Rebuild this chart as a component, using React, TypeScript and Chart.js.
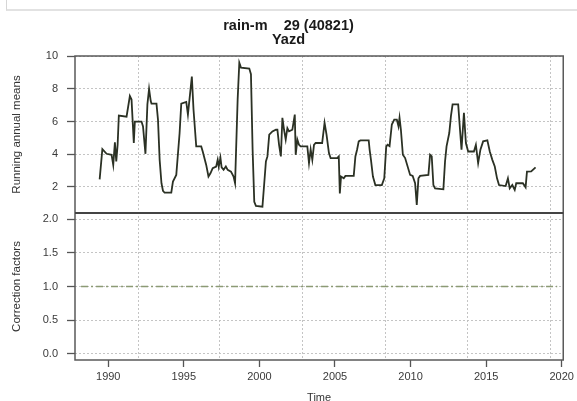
import React, { useEffect, useRef } from 'react';
import { Chart, registerables } from 'chart.js';

Chart.register(...registerables);

// ---- data ----
const rainYears = [
  1989.43, 1989.61, 1989.89, 1990.22, 1990.33, 1990.44, 1990.53, 1990.62, 1990.70, 1991.21,
  1991.43, 1991.54, 1991.69, 1991.76, 1992.20, 1992.30, 1992.46, 1992.59, 1992.70, 1992.81,
  1992.86, 1993.19, 1993.29, 1993.40, 1993.52, 1993.62, 1993.73, 1994.17, 1994.28, 1994.50,
  1994.72, 1994.83, 1995.16, 1995.27, 1995.53, 1995.64, 1995.82, 1996.15, 1996.25, 1996.48,
  1996.63, 1996.76, 1996.91, 1997.14, 1997.24, 1997.31, 1997.42, 1997.50, 1997.63, 1997.78,
  1997.90, 1998.12, 1998.29, 1998.39, 1998.56, 1998.67, 1998.78, 1999.33, 1999.44, 1999.55,
  1999.66, 1999.77, 2000.20, 2000.32, 2000.43, 2000.53, 2000.65, 2000.86, 2001.09, 2001.19,
  2001.30, 2001.42, 2001.52, 2001.63, 2001.74, 2001.85, 2001.96, 2002.18, 2002.34, 2002.40,
  2002.51, 2002.62, 2002.73, 2003.17, 2003.28, 2003.39, 2003.50, 2003.61, 2003.72, 2004.15,
  2004.31, 2004.44, 2004.60, 2004.71, 2005.14, 2005.25, 2005.32, 2005.40, 2005.58, 2005.69,
  2006.24, 2006.35, 2006.46, 2006.57, 2006.68, 2007.23, 2007.29, 2007.38, 2007.51, 2007.67,
  2008.10, 2008.26, 2008.39, 2008.48, 2008.61, 2008.76, 2008.92, 2009.09, 2009.20, 2009.27,
  2009.36, 2009.49, 2009.64, 2009.97, 2010.14, 2010.30, 2010.41, 2010.52, 2010.63, 2011.18,
  2011.29, 2011.40, 2011.51, 2011.62, 2012.17, 2012.28, 2012.38, 2012.56, 2012.67, 2012.78,
  2013.15, 2013.27, 2013.37, 2013.53, 2013.66, 2013.81, 2014.19, 2014.32, 2014.47, 2014.62,
  2014.80, 2015.08, 2015.24, 2015.41, 2015.57, 2015.72, 2015.85, 2016.29, 2016.44, 2016.56,
  2016.73, 2016.89, 2016.99, 2017.43, 2017.61, 2017.70, 2017.98, 2018.27,
];
const rainValues = [
  2.47, 4.32, 4.03, 3.97, 3.35, 4.73, 3.56, 4.58, 6.37, 6.30,
  7.56, 7.35, 4.70, 6.00, 6.00, 5.70, 4.03, 7.05, 8.00, 7.25,
  7.10, 7.10, 6.12, 3.66, 2.23, 1.77, 1.65, 1.65, 2.33, 2.74,
  5.30, 7.10, 7.20, 6.43, 8.75, 6.74, 4.48, 4.48, 4.17, 3.35,
  2.64, 2.84, 3.15, 3.25, 3.66, 3.25, 3.80, 3.20, 3.05, 3.25,
  3.05, 2.94, 2.64, 2.23, 7.35, 9.60, 9.30, 9.24, 8.90, 4.28,
  1.10, 0.85, 0.80, 2.23, 3.56, 3.87, 5.20, 5.40, 5.50, 5.50,
  4.58, 3.87, 6.23, 5.50, 4.90, 5.60, 5.40, 5.50, 6.43, 3.97,
  4.90, 4.58, 4.48, 4.48, 3.46, 4.30, 3.66, 4.58, 4.69, 4.69,
  5.92, 5.20, 4.07, 3.77, 3.77, 3.87, 1.61, 2.64, 2.53, 2.68,
  2.68, 3.87, 4.28, 4.79, 4.85, 4.85, 4.28, 3.66, 2.64, 2.12,
  2.12, 2.53, 4.48, 4.58, 4.50, 5.82, 6.12, 6.12, 5.71, 6.23,
  5.50, 3.97, 3.77, 2.74, 2.68, 2.23, 0.90, 2.53, 2.68, 2.74,
  3.97, 3.87, 2.12, 1.92, 1.86, 3.56, 4.48, 5.30, 6.33, 7.05,
  7.05, 5.50, 4.28, 6.53, 4.69, 4.17, 4.17, 4.58, 3.46, 4.28,
  4.79, 4.85, 4.17, 3.66, 3.25, 2.53, 2.12, 2.06, 2.53, 1.92,
  2.12, 1.82, 2.23, 2.23, 1.98, 2.94, 2.96, 3.20,
];
const corrYears = [1988.2, 2019.7];
const corrValues = [1.0, 1.0];

const xTickYears = [1990, 1995, 2000, 2005, 2010, 2015, 2020];
const xGridYears = [1991.97, 1997.37, 2002.83, 2008.36, 2013.75, 2019.28];
const topTicks = [2, 4, 6, 8, 10];
const bottomTicks = [0, 0.5, 1.0, 1.5, 2.0];
const titleLines = ['rain-m    29 (40821)', 'Yazd'];
const topAxisTitle = 'Running annual means';
const bottomAxisTitle = 'Correction factors';
const xAxisTitle = 'Time';

const W = 577;
const H = 410;

const tickFont = { family: "'Liberation Sans', Arial, sans-serif", size: 11 };
const axisTitleFont = { family: "'Liberation Sans Narrow', 'Liberation Sans', Arial, sans-serif", size: 11.5 };
const tickColor = '#3a3a3a';
const gridColor = 'rgba(190,190,190,0.9)';

const framePlugin = {
  id: 'frameAndTitle',
  afterDraw(chart: any) {
    const { ctx, chartArea } = chart;
    const yTop = chart.scales.yTop;
    ctx.save();
    ctx.strokeStyle = '#5a5a5a';
    ctx.lineWidth = 1.5;
    ctx.strokeRect(chartArea.left, chartArea.top, chartArea.right - chartArea.left, chartArea.bottom - chartArea.top);
    ctx.strokeStyle = '#444';
    ctx.lineWidth = 2;
    ctx.beginPath();
    ctx.moveTo(chartArea.left, yTop.bottom);
    ctx.lineTo(chartArea.right, yTop.bottom);
    ctx.stroke();
    ctx.fillStyle = '#1a1a1a';
    ctx.textAlign = 'center';
    ctx.textBaseline = 'middle';
    ctx.font = "bold 14.5px 'Liberation Sans', Arial, sans-serif";
    ctx.fillText(titleLines[0], chart.width / 2, 26);
    ctx.fillText(titleLines[1], chart.width / 2, 40);
    ctx.restore();
  },
};

export default function App() {
  const canvasRef = useRef<HTMLCanvasElement | null>(null);

  useEffect(() => {
    document.body.style.margin = '0';
    document.body.style.overflow = 'hidden';
    const canvas = canvasRef.current;
    if (!canvas) return;

    const rainData = rainYears.map((x, i) => ({ x, y: rainValues[i] }));
    const corrData = corrYears.map((x, i) => ({ x, y: corrValues[i] }));
    const isLabelYear = (v: number) => xTickYears.includes(v);

    const chart = new Chart(canvas, {
      type: 'line',
      data: {
        datasets: [
          {
            label: 'Running annual means',
            data: rainData,
            xAxisID: 'x',
            yAxisID: 'yTop',
            borderColor: '#2b3124',
            borderWidth: 1.8,
            pointRadius: 0,
            tension: 0,
            fill: false,
          },
          {
            label: 'Correction factors',
            data: corrData,
            xAxisID: 'x',
            yAxisID: 'yBot',
            borderColor: '#8c9a74',
            borderWidth: 1.3,
            borderDash: [7, 3, 2, 3],
            pointRadius: 0,
            tension: 0,
            fill: false,
          },
        ],
      },
      plugins: [framePlugin],
      options: {
        animation: false,
        responsive: false,
        devicePixelRatio: 1,
        layout: { padding: { top: 56, right: 11, left: 0, bottom: 0 } },
        plugins: {
          legend: { display: false },
          title: { display: false },
          tooltip: { enabled: false },
        },
        scales: {
          x: {
            type: 'linear',
            position: 'bottom',
            min: 1987.8,
            max: 2020.1,
            afterBuildTicks: (scale: any) => {
              scale.ticks = [...xTickYears, ...xGridYears]
                .sort((a, b) => a - b)
                .map((v) => ({ value: v }));
            },
            afterFit: (scale: any) => {
              scale.height = H - 360;
            },
            ticks: {
              autoSkip: false,
              maxRotation: 0,
              padding: 3,
              color: tickColor,
              font: tickFont,
              callback: (v: any) => (isLabelYear(Number(v)) ? String(v) : ''),
            },
            grid: {
              drawOnChartArea: true,
              drawTicks: true,
              tickLength: 7,
              lineWidth: 1,
              color: (ctx: any) => (ctx.tick && isLabelYear(ctx.tick.value) ? 'rgba(0,0,0,0)' : gridColor),
              tickColor: (ctx: any) => (ctx.tick && isLabelYear(ctx.tick.value) ? '#555' : 'rgba(0,0,0,0)'),
              tickWidth: 1.3,
            },
            border: { display: false, dash: [2, 2] },
            title: {
              display: true,
              text: xAxisTitle,
              color: '#333',
              font: { family: "'Liberation Sans', Arial, sans-serif", size: 11 },
              padding: { top: 0, bottom: 5 },
            },
          },
          yTop: {
            type: 'linear',
            position: 'left',
            stack: 'panels',
            stackWeight: 157,
            weight: 2,
            min: 0.41,
            max: 10.01,
            afterBuildTicks: (scale: any) => {
              scale.ticks = topTicks.map((v) => ({ value: v }));
            },
            afterFit: (scale: any) => {
              scale.width = 75;
            },
            ticks: {
              padding: 9,
              color: tickColor,
              font: tickFont,
              callback: (v: any) => String(v),
            },
            grid: {
              drawOnChartArea: true,
              drawTicks: true,
              tickLength: 8,
              color: gridColor,
              tickColor: '#555',
              tickWidth: 1.3,
            },
            border: { display: false, dash: [2, 2] },
            title: {
              display: true,
              text: topAxisTitle,
              color: '#333',
              font: axisTitleFont,
              padding: { top: 10, bottom: 0 },
            },
          },
          yBot: {
            type: 'linear',
            position: 'left',
            stack: 'panels',
            stackWeight: 147,
            weight: 1,
            min: -0.089,
            max: 2.089,
            afterBuildTicks: (scale: any) => {
              scale.ticks = bottomTicks.map((v) => ({ value: v }));
            },
            afterFit: (scale: any) => {
              scale.width = 75;
            },
            ticks: {
              padding: 9,
              color: tickColor,
              font: tickFont,
              callback: (v: any) => Number(v).toFixed(1),
            },
            grid: {
              drawOnChartArea: true,
              drawTicks: true,
              tickLength: 8,
              color: gridColor,
              tickColor: '#555',
              tickWidth: 1.3,
            },
            border: { display: false, dash: [2, 2] },
            title: {
              display: true,
              text: bottomAxisTitle,
              color: '#333',
              font: axisTitleFont,
              padding: { top: 10, bottom: 0 },
            },
          },
        },
      } as any,
    });

    return () => {
      chart.destroy();
    };
  }, []);

  return (
    <div
      style={{
        position: 'fixed',
        left: 0,
        top: 0,
        width: W,
        height: 401,
        overflow: 'hidden',
        background: '#fff',
      }}
    >
      <div
        style={{
          position: 'absolute',
          left: 6,
          top: 0,
          width: W - 6,
          height: 9,
          borderLeft: '1px solid #d6d6d6',
          borderBottom: '2px solid #e2e2e2',
        }}
      />
      <canvas ref={canvasRef} width={W} height={H} style={{ width: W, height: H, display: 'block' }} />
    </div>
  );
}
